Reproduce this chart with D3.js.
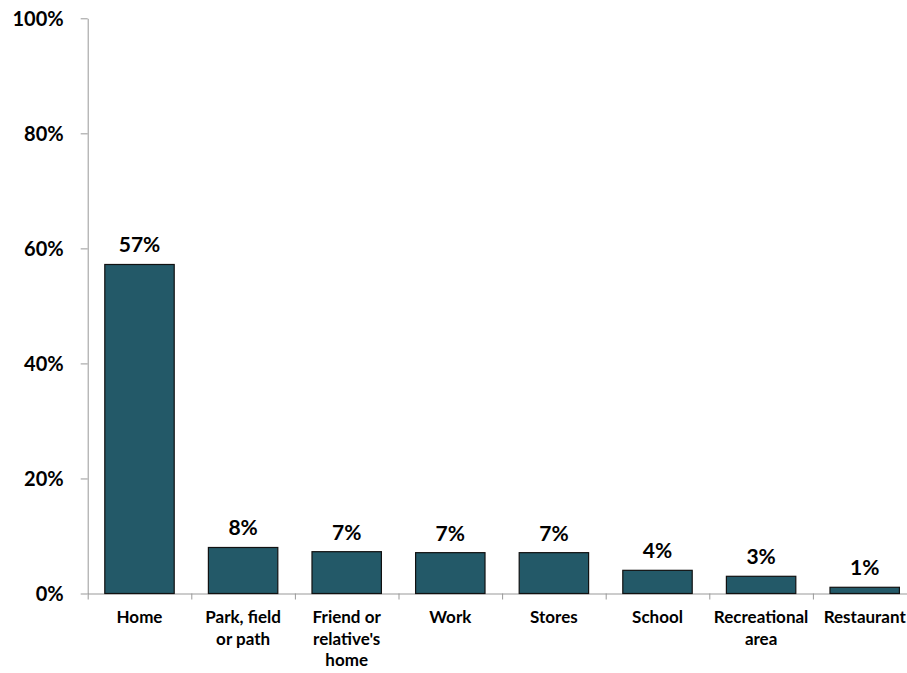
<!DOCTYPE html>
<html><head><meta charset="utf-8">
<script src="https://cdn.jsdelivr.net/npm/d3@7"></script>
<style>body{margin:0;background:#fff}svg{display:block}text{font-family:Lato,"Open Sans",sans-serif;font-weight:bold;fill:#000}</style>
</head><body>
<script>
const categories = [["Home"],["Park, field","or path"],["Friend or","relative's","home"],["Work"],["Stores"],["School"],["Recreational","area"],["Restaurant"]];
const values = [57.2, 8.0, 7.27, 7.1, 7.1, 4.03, 2.99, 1.08];
const valueLabels = ["57%","8%","7%","7%","7%","4%","3%","1%"];
const yTicks = [0,20,40,60,80,100];

const W=907,H=673;
const x0=87.7, y0=593.5, yTop=18.3, step=103.6;
const svg=d3.select("body").append("svg").attr("width",W).attr("height",H);
const keys=categories.map((c,i)=>i);
const x=d3.scaleBand().domain(keys).range([x0,x0+step*8]).paddingInner(0.33).paddingOuter(0.165);
const y=d3.scaleLinear().domain([0,100]).range([y0,yTop]);

// y axis
const ya=svg.append("g").attr("transform",`translate(${x0},0)`)
  .call(d3.axisLeft(y).tickValues(yTicks).tickFormat(d=>d+"%").tickSize(7).tickSizeOuter(0));
ya.select(".domain").attr("stroke","#999");
ya.selectAll(".tick line").attr("stroke","#999");
ya.selectAll(".tick text").attr("x",-24).attr("dy","0.35em").style("font-size","20px").style("font-family","Lato, sans-serif").style("font-weight","bold");

// x axis
const xb=d3.scaleLinear().domain([0,8]).range([x0,x0+step*8]);
const xa=svg.append("g").attr("transform",`translate(0,${y0})`)
  .call(d3.axisBottom(xb).tickValues(d3.range(0,9)).tickFormat("").tickSize(6).tickSizeOuter(0));
xa.select(".domain").attr("stroke","#999");
xa.selectAll(".tick line").attr("stroke","#999");

// bars
svg.append("g").selectAll("rect").data(values).join("rect")
  .attr("x",(d,i)=>x(i)).attr("width",x.bandwidth())
  .attr("y",d=>y(d)).attr("height",d=>y0-y(d))
  .attr("fill","#235968").attr("stroke","#111").attr("stroke-width",1.2);

// value labels
svg.append("g").selectAll("text").data(values).join("text")
  .attr("x",(d,i)=>x(i)+x.bandwidth()/2).attr("y",d=>y(d)-12)
  .attr("text-anchor","middle").style("font-size","21px").text((d,i)=>valueLabels[i]);

// category labels
const cl=svg.append("g").selectAll("text").data(categories).join("text")
  .attr("x",(d,i)=>x(i)+x.bandwidth()/2).attr("y",623)
  .attr("text-anchor","middle").style("font-size","17px");
cl.selectAll("tspan").data(d=>d).join("tspan")
  .attr("x",function(){return this.parentNode.getAttribute("x");})
  .attr("dy",(d,j)=>j===0?0:21.5).text(d=>d);
</script>
</body></html>
